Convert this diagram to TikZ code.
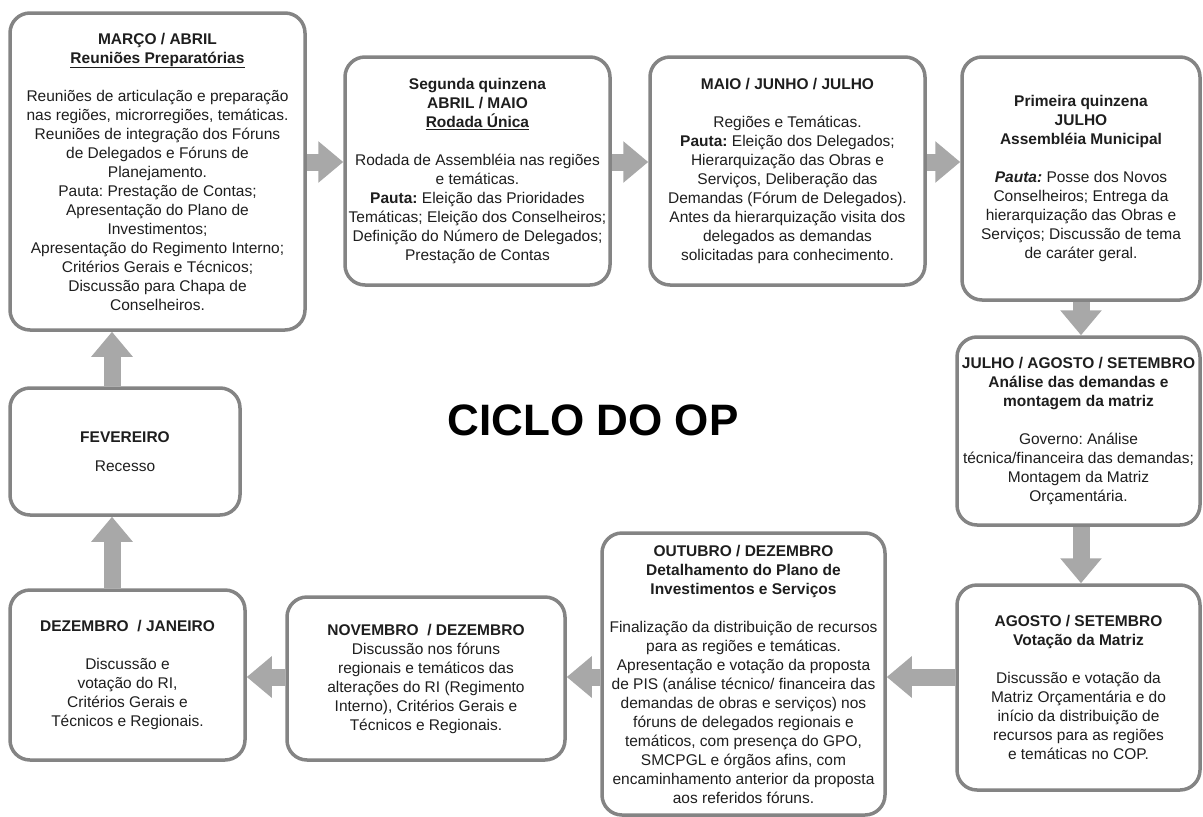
\documentclass[tikz,border=0pt]{standalone}
\usepackage{fontspec}
\setmainfont{Liberation Sans}
\usetikzlibrary{arrows.meta}
\definecolor{ink}{HTML}{1E1E1E}
\definecolor{frame}{HTML}{848484}
\definecolor{flowgray}{HTML}{A8A8A8}
\tikzset{
  box/.style={draw=frame, line width=3.5pt, rounded corners=20pt, fill=white,
    text=ink, align=center, inner sep=0pt, font=\fontsize{15.5}{19}\selectfont},
  flow/.style={draw=flowgray, line width=17pt, -{Triangle[width=40pt,length=25pt]}},
  title/.style={text=black, font=\fontsize{44}{50}\selectfont\bfseries},
}
\frenchspacing

\begin{document}
\begin{tikzpicture}[x=1pt, y=-1pt]
  \useasboundingbox (0,0) rectangle (1203,817);
  \coordinate (toprow) at (0,162);
  \coordinate (botrow) at (0,677);
  \coordinate (leftcol) at (112,0);
  \coordinate (rightcol) at (1081,0);

  % top row
  \node[box, minimum width=295, minimum height=317] (mar) at (157.5,171.5)
    {\textbf{MARÇO / ABRIL}\\ \underline{\textbf{Reuniões Preparatórias}}\\[19pt]
     Reuniões de articulação e preparação\\ nas regiões, microrregiões, temáticas.\\
     Reuniões de integração dos Fóruns\\ de Delegados e Fóruns de\\ Planejamento.\\
     Pauta: Prestação de Contas;\\ Apresentação do Plano de\\ Investimentos;\\
     Apresentação do Regimento Interno;\\ Critérios Gerais e Técnicos;\\
     Discussão para Chapa de\\ Conselheiros.};
  \node[box, minimum width=265, minimum height=228] (abr) at (477.5,171)
    {\textbf{Segunda quinzena}\\ \textbf{ABRIL / MAIO}\\ \underline{\textbf{Rodada Única}}\\[19pt]
     Rodada de Assembléia nas regiões\\ e temáticas.\\
     \textbf{Pauta:} Eleição das Prioridades\\ Temáticas; Eleição dos Conselheiros;\\
     Definição do Número de Delegados;\\ Prestação de Contas};
  \node[box, minimum width=275, minimum height=228] (mai) at (787.5,171)
    {\textbf{MAIO / JUNHO / JULHO}\\[19pt]
     Regiões e Temáticas.\\ \textbf{Pauta:} Eleição dos Delegados;\\
     Hierarquização das Obras e\\ Serviços, Deliberação das\\
     Demandas (Fórum de Delegados).\\ Antes da hierarquização visita dos\\
     delegados as demandas\\ solicitadas para conhecimento.};
  \node[box, minimum width=238, minimum height=243] (jul) at (1081,178.5)
    {\textbf{Primeira quinzena}\\ \textbf{JULHO}\\ \textbf{Assembléia Municipal}\\[19pt]
     \textbf{\textit{Pauta:}} Posse dos Novos\\ Conselheiros; Entrega da\\
     hierarquização das Obras e\\ Serviços; Discussão de tema\\ de caráter geral.};

  % right column
  \node[box, minimum width=243, minimum height=188] (ana) at (1078.5,431)
    {\textbf{JULHO / AGOSTO / SETEMBRO}\\ \textbf{Análise das demandas e}\\
     \textbf{montagem da matriz}\\[19pt]
     Governo: Análise\\ técnica/financeira das demandas;\\ Montagem da Matriz\\ Orçamentária.};
  \node[box, minimum width=243, minimum height=205] (vot) at (1078.5,687.5)
    {\textbf{AGOSTO / SETEMBRO}\\ \textbf{Votação da Matriz}\\[19pt]
     Discussão e votação da\\ Matriz Orçamentária e do\\ início da distribuição de\\
     recursos para as regiões\\ e temáticas no COP.};

  % bottom row
  \node[box, minimum width=283, minimum height=282] (out) at (743.5,674)
    {\textbf{OUTUBRO / DEZEMBRO}\\ \textbf{Detalhamento do Plano de}\\
     \textbf{Investimentos e Serviços}\\[19pt]
     Finalização da distribuição de recursos\\ para as regiões e temáticas.\\
     Apresentação e votação da proposta\\ de PIS (análise técnico/ financeira das\\
     demandas de obras e serviços) nos\\ fóruns de delegados regionais e\\
     temáticos, com presença do GPO,\\ SMCPGL e órgãos afins, com\\
     encaminhamento anterior da proposta\\ aos referidos fóruns.};
  \node[box, minimum width=278, minimum height=163] (nov) at (426,678.5)
    {\textbf{NOVEMBRO \ / DEZEMBRO}\\ Discussão nos fóruns\\ regionais e temáticos das\\
     alterações do RI (Regimento\\ Interno), Critérios Gerais e\\ Técnicos e Regionais.};
  \node[box, minimum width=235, minimum height=170] (dez) at (127.5,675)
    {\textbf{DEZEMBRO \ / JANEIRO}\\[19pt]
     Discussão e\\ votação do RI,\\ Critérios Gerais e\\ Técnicos e Regionais.};

  % left column
  \node[box, minimum width=230, minimum height=127] (fev) at (125,451.5)
    {\textbf{FEVEREIRO}\\[10pt] Recesso};

  \node[title] (ciclo) at (593,420) {CICLO DO OP};

  % cycle
  \draw[flow] (mar.east |- toprow) -- (abr.west |- toprow);
  \draw[flow] (abr.east |- toprow) -- (mai.west |- toprow);
  \draw[flow] (mai.east |- toprow) -- (jul.west |- toprow);
  \draw[flow] (jul.south -| rightcol) -- (ana.north -| rightcol);
  \draw[flow] (ana.south -| rightcol) -- (vot.north -| rightcol);
  \draw[flow] (vot.west |- botrow) -- (out.east |- botrow);
  \draw[flow] (out.west |- botrow) -- (nov.east |- botrow);
  \draw[flow] (nov.west |- botrow) -- (dez.east |- botrow);
  \draw[flow] (dez.north -| leftcol) -- (fev.south -| leftcol);
  \draw[flow] (fev.north -| leftcol) -- (mar.south -| leftcol);
\end{tikzpicture}
\end{document}
